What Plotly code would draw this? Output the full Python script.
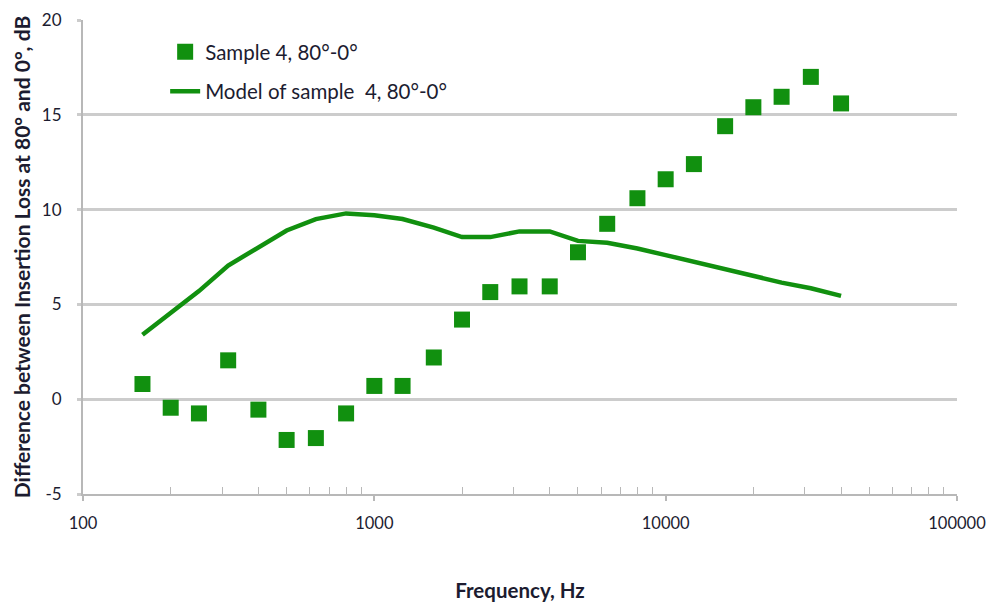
import plotly.graph_objects as go

freq = [160, 200, 250, 315, 400, 500, 630, 800, 1000, 1250, 1600, 2000, 2500,
        3150, 4000, 5000, 6300, 8000, 10000, 12500, 16000, 20000, 25000, 31500, 40000]
measured = [0.8, -0.45, -0.75, 2.05, -0.55, -2.15, -2.05, -0.75, 0.7, 0.7, 2.2, 4.2, 5.65,
            5.95, 5.95, 7.75, 9.25, 10.6, 11.6, 12.4, 14.4, 15.4, 15.95, 17.0, 15.6]
model = [3.4, 4.55, 5.7, 7.05, 8.0, 8.9, 9.5, 9.8, 9.7, 9.5, 9.05, 8.55, 8.55,
         8.85, 8.85, 8.35, 8.25, 7.95, 7.6, 7.25, 6.9, 6.5, 6.15, 5.85, 5.45]

x_ticks = [100, 1000, 10000, 100000]
x_ticktext = ["100", "1000", "10000", "100000"]
y_ticks = [-5, 0, 5, 10, 15, 20]
y_ticktext = ["-5", "0", "5", "10", "15", "20"]

green = "#11900f"
font = "Lato, 'Open Sans', sans-serif"
text_col = "#1c1c30"

minor_vals = [m * d for d in (100, 1000, 10000) for m in range(2, 10)]

fig = go.Figure()
fig.add_trace(go.Scatter(x=freq, y=measured, mode="markers", name="Sample 4, 80°-0°",
                         legendgroup="a",
                         marker=dict(symbol="square", size=16, color=green)))
fig.add_trace(go.Scatter(x=freq, y=model, mode="lines", name="Model of sample  4, 80°-0°",
                         legendgroup="b",
                         line=dict(color=green, width=4.5)))

fig.update_layout(
    width=993, height=603,
    margin=dict(l=83, r=36, t=20, b=109),
    paper_bgcolor="white", plot_bgcolor="white",
    font=dict(family=font, size=16, color=text_col),
    showlegend=True,
    legend=dict(x=0.094, y=0.975, xanchor="left", yanchor="top",
                bgcolor="rgba(0,0,0,0)", font=dict(size=20.5, color=text_col),
                itemwidth=30, tracegroupgap=10),
    xaxis=dict(type="log", range=[2, 5], tickvals=x_ticks, ticktext=x_ticktext,
               automargin=False,
               showgrid=False, zeroline=False, showline=True, linecolor="#b8b8b8", linewidth=2,
               ticks="outside", ticklen=5, tickcolor="#b8b8b8", tickwidth=1.5,
               ticklabelstandoff=8,
               minor=dict(tickvals=minor_vals, ticks="inside", ticklen=7,
                          tickcolor="#b8b8b8", tickwidth=1, showgrid=False),
               tickfont=dict(size=16.5, color=text_col),
               title=dict(text="<b>Frequency, Hz</b>", standoff=52,
                          font=dict(size=20.5, color=text_col))),
    yaxis=dict(range=[-5, 20], tickvals=y_ticks, ticktext=y_ticktext,
               automargin=False,
               showgrid=True, gridcolor="#cccccc", gridwidth=2.5,
               zeroline=False, showline=True, linecolor="#b8b8b8", linewidth=2,
               ticks="outside", ticklen=4, tickcolor="#cccccc", tickwidth=2.5,
               ticklabelstandoff=12,
               tickfont=dict(size=17, color=text_col),
               title=dict(text="<b>Difference between Insertion Loss at 80° and 0°, dB</b>",
                          standoff=6, font=dict(size=21, color=text_col))),
)

fig.write_html("out.html")
